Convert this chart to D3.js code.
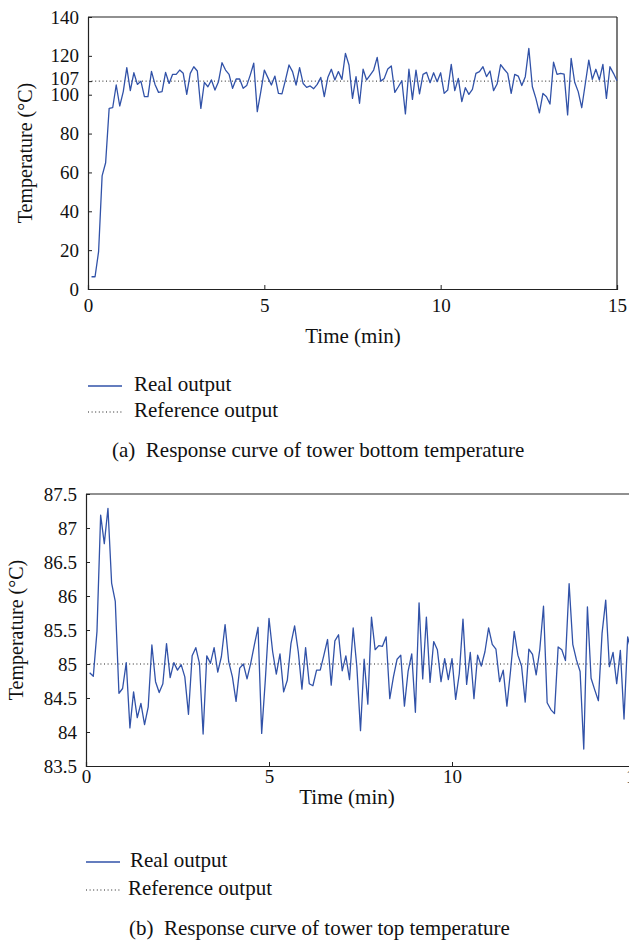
<!DOCTYPE html>
<html>
<head>
<meta charset="utf-8">
<script src="https://cdn.jsdelivr.net/npm/d3@7"></script>
<style>
  body { margin: 0; background: #fff; }
  svg text { font-family: "Liberation Serif", "DejaVu Serif", serif; fill: #111; white-space: pre; }
</style>
</head>
<body>
<svg id="chart" width="629" height="942"></svg>
<script>
// sampled every 0.1 min, starting at t = 0.1
const sampleStep = 0.1;

// (a) tower bottom temperature
const bottomTemp = [
  6.3, 6.3, 19.2, 58.2, 65.0, 93.0, 93.3, 105.0, 94.2, 101.6,
  113.9, 102.1, 111.3, 105.3, 107.0, 99.0, 99.0, 112.0, 105.3, 101.2,
  101.6, 111.5, 105.8, 110.5, 110.5, 112.7, 111.0, 100.2, 111.0, 114.4,
  112.2, 93.0, 106.4, 104.1, 107.6, 102.4, 106.7, 116.5, 112.7, 110.5,
  103.3, 108.1, 108.1, 103.3, 104.7, 110.1, 116.2, 91.3, 101.6, 112.7,
  108.8, 105.0, 109.6, 100.7, 100.4, 107.6, 115.3, 111.9, 105.0, 113.9,
  105.8, 103.8, 104.5, 103.1, 105.3, 108.9, 99.0, 108.8, 113.1, 107.6,
  111.9, 107.9, 121.3, 115.3, 98.1, 109.3, 95.6, 113.1, 107.6, 110.1,
  112.7, 119.2, 107.0, 108.4, 113.2, 114.8, 101.2, 104.1, 107.2, 90.1,
  113.1, 97.6, 112.7, 100.4, 110.5, 111.5, 106.2, 111.3, 106.7, 111.3,
  100.7, 102.4, 115.6, 102.1, 108.4, 96.4, 103.6, 100.2, 102.8, 111.0,
  111.9, 114.4, 109.3, 112.2, 102.1, 105.5, 115.5, 113.1, 111.0, 100.7,
  110.5, 109.6, 104.7, 109.3, 123.9, 104.1, 98.1, 90.7, 100.7, 99.0,
  95.2, 116.7, 110.5, 111.0, 110.6, 89.6, 118.7, 106.4, 101.6, 93.3,
  105.5, 117.8, 107.9, 113.1, 107.6, 115.6, 98.1, 114.4, 111.0, 107.2
];
const bottomRef = 107;
const bottomTicksY = [0, 20, 40, 60, 80, 100, 107, 120, 140];

// (b) tower top temperature
const topTemp = [
  84.87, 84.82, 85.48, 87.19, 86.77, 87.29, 86.19, 85.92, 84.57, 84.64,
  85.02, 84.06, 84.59, 84.21, 84.42, 84.11, 84.37, 85.28, 84.74, 84.58,
  84.71, 85.30, 84.80, 85.02, 84.91, 84.99, 84.81, 84.26, 85.12, 85.24,
  85.01, 83.97, 85.12, 85.01, 85.24, 84.88, 85.11, 85.58, 85.03, 84.81,
  84.45, 84.94, 85.00, 84.78, 85.01, 85.28, 85.54, 83.98, 84.77, 85.67,
  85.18, 84.85, 85.15, 84.59, 84.76, 85.30, 85.56, 85.18, 84.63, 85.24,
  84.71, 84.68, 84.91, 84.91, 85.13, 85.36, 84.69, 85.34, 85.43, 84.90,
  85.12, 84.77, 85.53, 84.96, 84.02, 85.07, 84.41, 85.69, 85.21, 85.27,
  85.26, 85.40, 84.49, 84.81, 85.07, 85.13, 84.38, 84.89, 85.15, 84.29,
  85.90, 84.78, 85.69, 84.73, 85.33, 85.21, 84.74, 85.08, 84.77, 85.08,
  84.48, 84.86, 85.66, 84.70, 85.17, 84.49, 85.13, 84.97, 85.18, 85.53,
  85.29, 85.22, 84.74, 84.91, 84.38, 84.90, 85.48, 85.13, 84.97, 84.44,
  85.22, 85.14, 84.84, 85.22, 85.85, 84.43, 84.33, 84.27, 85.25, 85.21,
  85.05, 86.18, 85.29, 85.06, 84.89, 83.75, 85.84, 84.79, 84.62, 84.46,
  85.45, 85.94, 84.96, 85.17, 84.71, 85.20, 84.19, 85.40, 85.18
];
const topRef = 85;
const topTicksY = [83.5, 84, 84.5, 85, 85.5, 86, 86.5, 87, 87.5];

const timeTicks = [0, 5, 10, 15];
const legendLabels = ['Real output', 'Reference output'];

const blue = '#3152a8';
const svg = d3.select('#chart');

function drawPanel(opts) {
  const x = d3.scaleLinear().domain([0, 15]).range([opts.left, opts.right]);
  const y = d3.scaleLinear().domain(opts.yDomain).range([opts.bottom, opts.top]);
  const g = svg.append('g');

  // frame
  g.append('line').attr('x1', opts.left).attr('x2', opts.right)
    .attr('y1', opts.top).attr('y2', opts.top).attr('stroke', '#222').attr('stroke-width', 1.2);
  g.append('line').attr('x1', opts.right).attr('x2', opts.right)
    .attr('y1', opts.top).attr('y2', opts.bottom).attr('stroke', '#222').attr('stroke-width', 1.2);

  // axes, ticks pointing inwards
  const xAxis = g.append('g').attr('transform', `translate(0,${opts.bottom})`)
    .call(d3.axisBottom(x).tickValues(timeTicks).tickSize(-4).tickPadding(opts.xPad).tickFormat(d3.format('d')));
  const yAxis = g.append('g').attr('transform', `translate(${opts.left},0)`)
    .call(d3.axisLeft(y).tickValues(opts.yTicks).tickSize(-4).tickPadding(9).tickFormat(opts.yFormat));
  [xAxis, yAxis].forEach((a) => {
    a.select('.domain').attr('stroke', '#222').attr('stroke-width', 1.2);
    a.selectAll('.tick line').attr('stroke', '#222');
    a.selectAll('.tick text').style('font-size', '19px').attr('fill', '#111');
  });
  // the 107 label sits a touch above its tick in the original
  yAxis.selectAll('.tick text').filter((d) => d === 107).attr('dy', '0.2em');

  // reference (dotted) line
  g.append('line')
    .attr('x1', x(0)).attr('x2', opts.right)
    .attr('y1', y(opts.ref)).attr('y2', y(opts.ref))
    .attr('stroke', '#222').attr('stroke-width', 1)
    .attr('stroke-dasharray', '1,2.6');

  // real output
  const line = d3.line()
    .x((d, i) => x((i + 1) * sampleStep))
    .y((d) => y(d));
  g.append('path')
    .datum(opts.values)
    .attr('fill', 'none')
    .attr('stroke', blue)
    .attr('stroke-width', 1.3)
    .attr('stroke-linejoin', 'round')
    .attr('d', line);

  // axis titles
  g.append('text')
    .attr('x', opts.xTitle[0]).attr('y', opts.xTitle[1])
    .attr('text-anchor', 'middle').attr('dominant-baseline', 'middle')
    .style('font-size', '21px')
    .text('Time (min)');
  g.append('text')
    .attr('transform', `translate(${opts.yTitle[0]},${opts.yTitle[1]}) rotate(-90)`)
    .attr('text-anchor', 'middle').attr('dominant-baseline', 'middle')
    .style('font-size', '20px')
    .text('Temperature (°C)');

  // legend
  const leg = g.append('g');
  legendLabels.forEach((label, i) => {
    const ly = opts.legend.y[i];
    leg.append('line')
      .attr('x1', opts.legend.x).attr('x2', opts.legend.x + 34)
      .attr('y1', ly).attr('y2', ly)
      .attr('stroke', i === 0 ? blue : '#222')
      .attr('stroke-width', i === 0 ? 1.3 : 1)
      .attr('stroke-dasharray', i === 0 ? null : '1,2.6');
    leg.append('text')
      .attr('x', opts.legend.tx[i]).attr('y', ly)
      .attr('dominant-baseline', 'middle')
      .style('font-size', '21px')
      .text(label);
  });

  // caption
  g.append('text')
    .attr('x', opts.caption[0]).attr('y', opts.caption[1])
    .attr('dominant-baseline', 'middle')
    .style('font-size', '21px')
    .text(opts.captionText);
}

drawPanel({
  left: 88, right: 617, top: 17, bottom: 289,
  yDomain: [0, 140], yTicks: bottomTicksY, yFormat: d3.format('d'),
  values: bottomTemp, ref: bottomRef, xPad: 10,
  xTitle: [353, 338], yTitle: [27, 153],
  legend: { x: 88, y: [386, 412], tx: [134, 134] },
  caption: [112, 452],
  captionText: '(a)  Response curve of tower bottom temperature'
});

drawPanel({
  left: 86, right: 635, top: 494, bottom: 766,
  yDomain: [83.5, 87.5], yTicks: topTicksY, yFormat: (d) => String(d),
  values: topTemp, ref: topRef, xPad: 4,
  xTitle: [347, 799], yTitle: [18, 630],
  legend: { x: 86, y: [862, 890], tx: [130, 128] },
  caption: [129, 930],
  captionText: '(b)  Response curve of tower top temperature'
});
</script>
</body>
</html>
